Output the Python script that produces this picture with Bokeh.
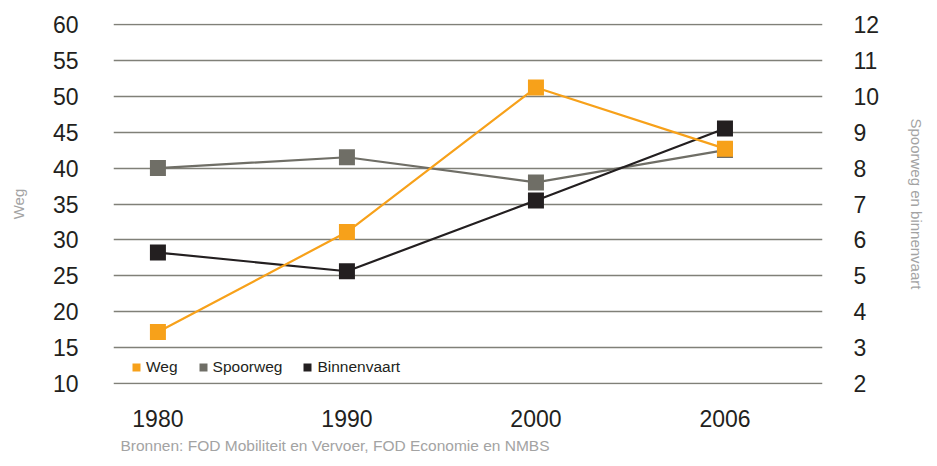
from bokeh.plotting import figure
from bokeh.models import Range1d, LinearAxis, FixedTicker, Legend, LegendItem, Title
from bokeh.embed import file_html
from bokeh.resources import INLINE

# Goederenvervoer per modus (primaire as: weg, secundaire as: spoor en binnenvaart)
years = ["1980", "1990", "2000", "2006"]
weg = [17.2, 31.1, 51.2, 42.7]
spoorweg = [8.0, 8.3, 7.6, 8.5]
binnenvaart = [5.65, 5.13, 7.1, 9.1]
left_ticks = [10, 15, 20, 25, 30, 35, 40, 45, 50, 55, 60]
right_ticks = [2, 3, 4, 5, 6, 7, 8, 9, 10, 11, 12]
source_text = "Bronnen: FOD Mobiliteit en Vervoer, FOD Economie en NMBS"

FONT = "Liberation Sans"
C_WEG = "#f7a11a"
C_SPOOR = "#6f6e66"
C_BINNEN = "#231f20"
C_TEXT = "#231f20"
C_TITLE = "#a3a3a3"

xs = list(range(len(years)))

# ranges padded by a hair so the outer grid lines at 10 and 60 are drawn
p = figure(
    width=937, height=466,
    x_range=Range1d(-0.235, 3.516),
    y_range=Range1d(9.9, 60.1),
    output_backend="svg", toolbar_location=None,
    min_border_left=113, min_border_right=115,
    min_border_top=23, min_border_bottom=82,
)
p.extra_y_ranges = {"rechts": Range1d(1.98, 12.02)}
p.outline_line_color = None
p.background_fill_color = "white"
p.border_fill_color = "white"

# horizontal grid only
p.xgrid.visible = False
p.ygrid.ticker = FixedTicker(ticks=left_ticks)
p.ygrid.grid_line_color = "#808078"
p.ygrid.grid_line_width = 1.4

def style_axis(ax, standoff):
    ax.axis_line_color = None
    ax.major_tick_line_color = None
    ax.minor_tick_line_color = None
    ax.major_tick_out = 0
    ax.major_tick_in = 0
    ax.minor_tick_out = 0
    ax.major_label_text_font = FONT
    ax.major_label_text_font_size = "23px"
    ax.major_label_text_color = C_TEXT
    ax.major_label_standoff = standoff
    ax.axis_label_text_font = FONT
    ax.axis_label_text_font_size = "15px"
    ax.axis_label_text_font_style = "normal"
    ax.axis_label_text_color = C_TITLE

xaxis = p.xaxis[0]
xaxis.ticker = FixedTicker(ticks=xs)
xaxis.major_label_overrides = {i: y for i, y in enumerate(years)}
style_axis(xaxis, 25)

yaxis = p.yaxis[0]
yaxis.ticker = FixedTicker(ticks=left_ticks)
yaxis.axis_label = "Weg"
style_axis(yaxis, 35)
yaxis.axis_label_standoff = 23

raxis = LinearAxis(y_range_name="rechts", ticker=FixedTicker(ticks=right_ticks),
                   axis_label="Spoorweg en binnenvaart")
style_axis(raxis, 31)
raxis.axis_label_standoff = 26
p.add_layout(raxis, "right")

# series: spoor and binnenvaart on the secondary axis
p.line(xs, spoorweg, y_range_name="rechts", line_color=C_SPOOR, line_width=2.2)
sq_spoor = p.scatter(xs, spoorweg, y_range_name="rechts", marker="square", size=16,
                     fill_color=C_SPOOR, line_color=None)
p.line(xs, binnenvaart, y_range_name="rechts", line_color=C_BINNEN, line_width=2.2)
sq_binnen = p.scatter(xs, binnenvaart, y_range_name="rechts", marker="square", size=16,
                      fill_color=C_BINNEN, line_color=None)
p.line(xs, weg, line_color=C_WEG, line_width=2.2)
sq_weg = p.scatter(xs, weg, marker="square", size=16, fill_color=C_WEG, line_color=None)

legend = Legend(
    items=[LegendItem(label="Weg", renderers=[sq_weg]),
           LegendItem(label="Spoorweg", renderers=[sq_spoor]),
           LegendItem(label="Binnenvaart", renderers=[sq_binnen])],
    orientation="horizontal", location=(13, 7),
    glyph_width=20, glyph_height=20, label_standoff=0, spacing=15,
    padding=0, margin=0, border_line_color=None, background_fill_alpha=0,
    label_text_font=FONT, label_text_font_size="15.5px", label_text_color=C_TEXT,
)
p.add_layout(legend, "center")

# source line under the year labels
source = Title(text=source_text, align="left", offset=7, text_font=FONT,
               text_font_size="15.5px", text_font_style="normal", text_color=C_TITLE)
p.add_layout(source, "below")

open("out.html", "w").write(file_html(p, INLINE))
